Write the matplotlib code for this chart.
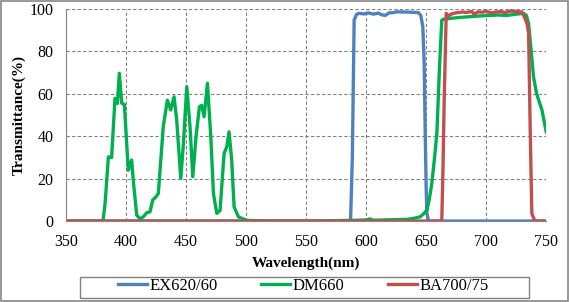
import numpy as np
import matplotlib.pyplot as plt

plt.rcParams['font.family'] = ['Liberation Serif', 'DejaVu Serif']

# EX620/60 (blue)
ex_wl = [350, 587, 588.5, 590, 592, 594, 598, 602, 606, 610, 613, 616, 619, 622, 626, 632, 638, 643.6, 645.5,
         647.2, 648.3, 649.2, 650.0, 650.6, 652, 750]
ex_t = [0, 0, 30, 94.8, 97.5, 98, 97.7, 98.2, 97.6, 98.1, 97.3, 97.0, 98.2, 98.3, 98.7, 98.6, 98.5, 98.3, 97,
        91.7, 75, 41.5, 15, 3.6, 0, 0]

# DM660 (green)
dm_wl = [350, 380.8, 382.5, 385.3, 388, 390.8, 392.8, 394.4, 396.4, 398.6, 401.9, 404.7, 406, 408.9, 411.7,
         414.4, 417.2, 420, 422.2, 425, 426.9, 431, 434.4, 437.2, 440, 442.2, 445.6, 447.8, 450.6, 453.3,
         455.6, 458.3, 461.1, 463, 465, 467.8, 470.6, 472.8, 475.6, 478.3, 481.7, 483.9, 485.8, 488, 490,
         493.6, 500.5, 520, 560, 600, 603, 606, 620, 634, 640, 645, 648, 650.6, 652.5, 654.7, 656.8, 658.9,
         661.1, 663, 665, 670, 677, 684, 693, 703, 710, 717, 724, 731, 733.5, 735.3, 737.5, 739.4, 742,
         746.4, 750]
dm_t = [0, 0, 8, 30.3, 30, 57.9, 55.5, 69.7, 55.6, 55, 24, 28.8, 19.3, 2.8, 1, 2, 3.9, 4.4, 9.9, 11.5, 13,
        44.5, 57, 52.4, 58.6, 47.6, 20.1, 36.6, 63.4, 44.5, 20.9, 39.8, 53.9, 54.6, 49.2, 65, 39.8, 13, 3.6,
        5, 32, 35, 42.1, 28.8, 6.7, 2, 0.3, 0, 0, 0.5, 1.0, 0.4, 0.6, 0.8, 1.3, 2, 3.5, 5.2, 10, 17.8, 29,
        41.4, 72.8, 94.8, 95.3, 95.6, 96, 96.3, 96.7, 97, 97.2, 97, 97.5, 98, 97, 93, 80, 68, 60, 52.4, 42]

# BA700/75 (red)
ba_wl = [350, 663, 664, 665, 666.7, 668, 670, 672.8, 676, 680, 684, 688, 690, 693, 697, 700, 704, 708, 712,
         716, 720, 724, 727, 729.7, 732, 734, 735.3, 736.7, 738, 740.5, 750]
ba_t = [0, 0, 25, 57, 98, 96.5, 97.4, 98, 98.3, 98.6, 98.4, 98.9, 97.4, 98.7, 98.5, 99, 98.2, 98.6, 98.8,
        98.4, 99.1, 98.9, 98.7, 98.7, 96, 93, 88.5, 41.5, 3.6, 0, 0]

fig = plt.figure(figsize=(5.69, 3.02), dpi=100)
ax = fig.add_axes([0.116, 0.268, 0.844, 0.702])

ax.plot(ex_wl, ex_t, color='#4F81BD', lw=2.4, label='EX620/60', solid_joinstyle='round')
ax.plot(dm_wl, dm_t, color='#00B050', lw=2.4, label='DM660', solid_joinstyle='round')
ax.plot(ba_wl, ba_t, color='#C0504D', lw=2.4, label='BA700/75', solid_joinstyle='round')

ax.set_xlim(350, 750)
ax.set_ylim(0, 100)
ax.set_xticks(np.arange(350, 751, 50))
ax.set_yticks(np.arange(0, 101, 20))
ax.grid(True, color='#808080', linestyle=(0, (3, 2)), lw=0.8)
ax.set_axisbelow(True)
for s in ['top', 'right']:
    ax.spines[s].set_visible(False)
for s in ['left', 'bottom']:
    ax.spines[s].set_color('#868686')
ax.tick_params(length=0, labelsize=11.5, pad=9)
ax.set_xlabel('Wavelength(nm)', fontsize=11, fontweight='bold', labelpad=5)
ax.set_ylabel('Transmittance(%)', fontsize=11, fontweight='bold', labelpad=3)

leg = fig.legend(loc='center', ncol=3, bbox_to_anchor=(0.533, 0.052), frameon=False,
                 fontsize=12, handlelength=1.75, columnspacing=2.6, handletextpad=0.15)

# legend box, drawn wider than its content
fig.patches.append(plt.Rectangle((0.1406, 0.0133), 0.789, 0.070, transform=fig.transFigure,
                                 fill=False, edgecolor='#808080', lw=1.0))
# outer chart border
fig.patches.append(plt.Rectangle((0.001, 0.002), 0.997, 0.995, transform=fig.transFigure,
                                 fill=False, edgecolor='#868686', lw=1.2))

fig.savefig('out.png', dpi=100)
